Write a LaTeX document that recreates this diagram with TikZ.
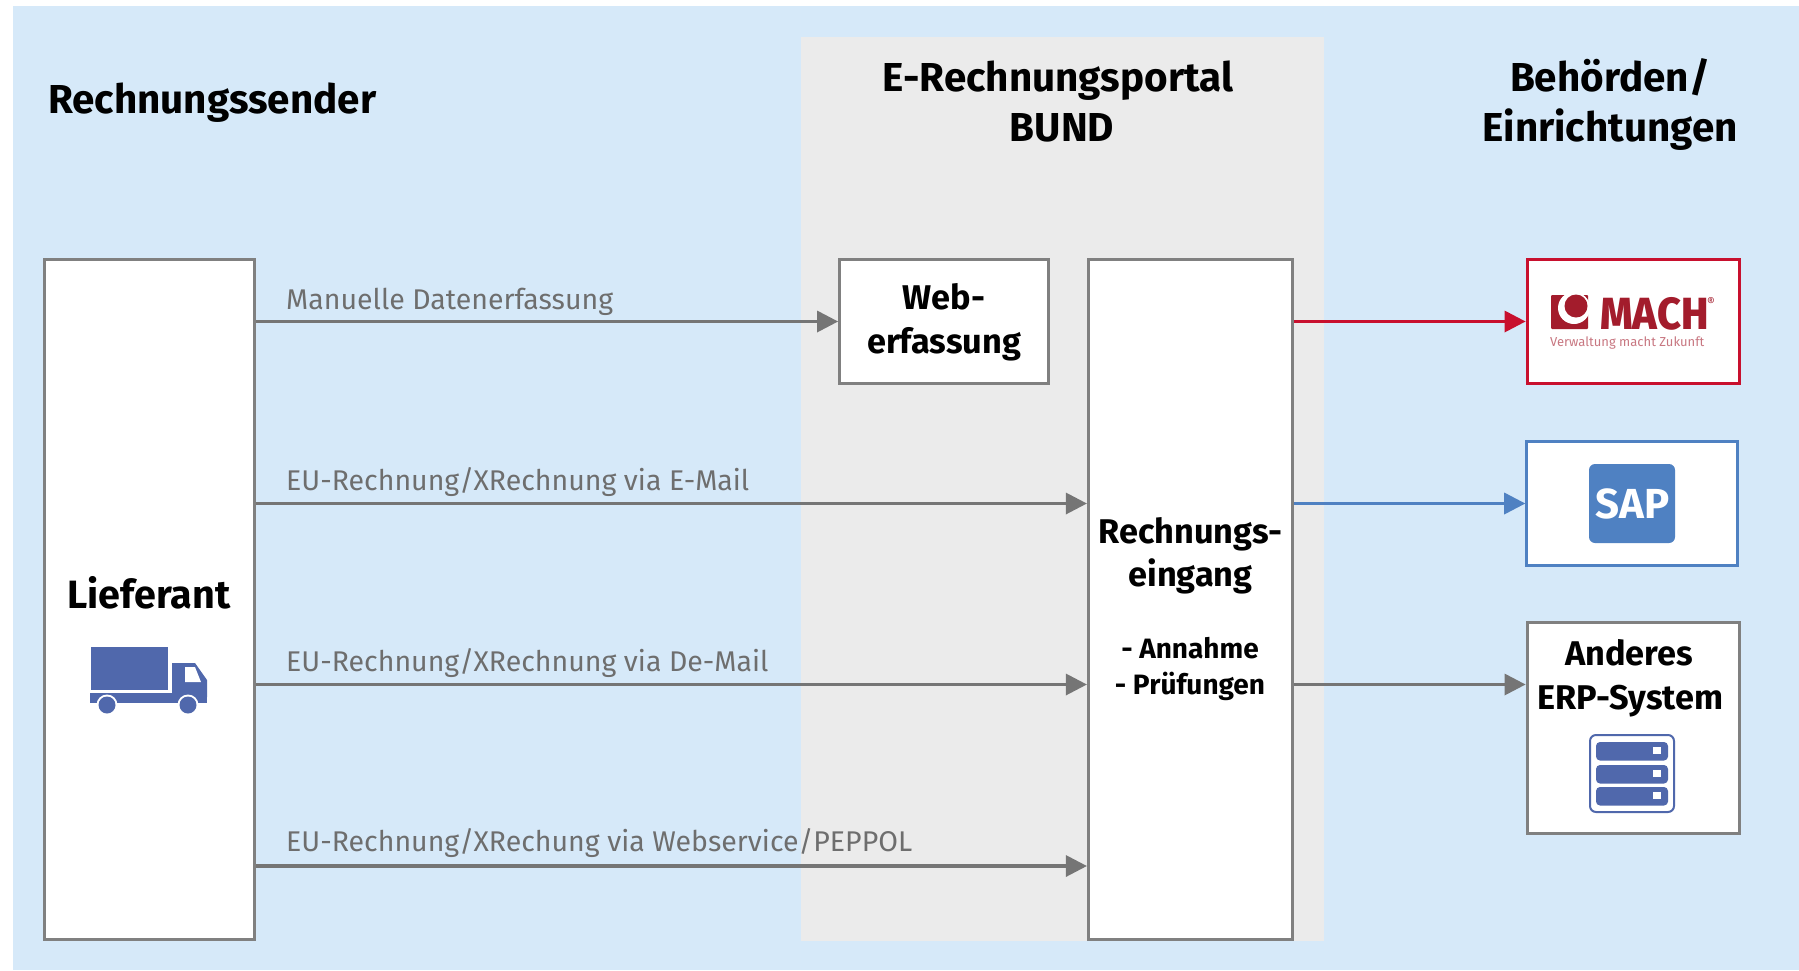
\documentclass[tikz,border=0pt]{standalone}
\usepackage{fontspec}
\usetikzlibrary{calc}
\setmainfont{Fira Sans}
\newfontfamily\heavyfont{Fira Sans ExtraBold}
\definecolor{bgblue}{HTML}{D6E9F9}
\definecolor{portal}{HTML}{EBEBEB}
\definecolor{edge}{HTML}{808080}
\definecolor{arrowgrey}{HTML}{757575}
\definecolor{lab}{HTML}{6E6E6E}
\definecolor{machred}{HTML}{C8102E}
\definecolor{machdark}{HTML}{A31C2C}
\definecolor{sapblue}{HTML}{4F81C2}
\definecolor{icon}{HTML}{5068AC}
\tikzset{
 box/.style={draw=edge,line width=3pt,fill=white,inner sep=0pt},
 ttl/.style={font=\fontsize{40.4}{50}\selectfont\bfseries,align=center,text=black},
 boxt/.style={font=\fontsize{34.3}{43.5}\selectfont\bfseries,align=center,text=black},
 sub/.style={font=\fontsize{28}{36}\selectfont\bfseries,align=center,text=black},
 lbl/.style={font=\fontsize{28.5}{34}\selectfont,text=lab,anchor=base west,inner sep=0pt},
 conn/.style={line width=3.2pt},
}
\newcommand{\arr}[3]{%
 \draw[conn,draw=#3] (#1) -- ($(#2)+(-20,0)$);
 \fill[#3] (#2) -- ($(#2)+(-21,-11)$) -- ($(#2)+(-21,11)$) -- cycle;}
\begin{document}
\begin{tikzpicture}[x=1pt,y=-1pt]
\useasboundingbox (0,0) rectangle (1799,970);
\fill[bgblue] (13,6) rectangle (1799,970);
\fill[portal] (801,37) rectangle (1324,941);
\node[ttl,anchor=base west,inner sep=0pt] (t1) at (48,113) {Rechnungssender};
\node[ttl] (t2) at (1058,102) {E-Rechnungsportal\\\hspace*{8pt}BUND};
\node[ttl] (t3) at (1610,104) {Behörden/\\Einrichtungen};
\node[box,minimum width=210pt,minimum height=680pt] (lief) at (149.5,599) {};
\node[box,minimum width=209pt,minimum height=124pt] (web) at (944,321.5) {};
\node[box,minimum width=204pt,minimum height=680pt] (re) at (1190.3,599) {};
\node[box,draw=machred,minimum width=212pt,minimum height=124.5pt] (mach) at (1633,321.5) {};
\node[box,draw=sapblue,line width=2.6pt,minimum width=211pt,minimum height=124pt] (sap) at (1632,503.5) {};
\node[box,minimum width=212pt,minimum height=211pt] (erp) at (1633,727.5) {};
\node[boxt,font=\fontsize{39.5}{44}\selectfont\bfseries] (lt) at (149,593) {Lieferant};
\node[boxt] (wt) at (944,322.5) {Web-\\erfassung};
\node[boxt] (rt) at (1190.5,556) {Rechnungs-\\eingang};
\node[sub] (rs) at (1190,669) {- Annahme\\- Prüfungen};
\node[boxt] (et) at (1629,678.5) {Anderes\\\hspace*{3pt}ERP-System};
% connectors
\coordinate (l1) at (lief.east|-web.west);
\coordinate (l2) at (lief.east|-sap.west);
\coordinate (y3) at (0,684.5);
\coordinate (y4) at (0,866);
\coordinate (l3) at (lief.east|-y3);
\coordinate (l4) at (lief.east|-y4);
\coordinate (r2) at (re.west|-l2);
\coordinate (r3) at (re.west|-l3);
\coordinate (r4) at (re.west|-l4);
\coordinate (o1) at (re.east|-l1);
\coordinate (o2) at (re.east|-l2);
\coordinate (o3) at (re.east|-l3);
\coordinate (e3) at (erp.west|-l3);
\arr{l1}{web.west}{arrowgrey}
\arr{l2}{r2}{arrowgrey}
\arr{l3}{r3}{arrowgrey}
\arr{l4}{r4}{arrowgrey}
\arr{o1}{mach.west}{machred}
\arr{o2}{sap.west}{sapblue}
\arr{o3}{e3}{arrowgrey}
\node[lbl] (a) at (286,309) {Manuelle Datenerfassung};
\node[lbl] (b) at (286,490) {EU-Rechnung/XRechnung via E-Mail};
\node[lbl] (c) at (286,671) {EU-Rechnung/XRechnung via De-Mail};
\node[lbl] (d) at (286,851) {EU-Rechnung/XRechung via Webservice/PEPPOL};
% truck
\begin{scope}[shift={(90,647)}]
\fill[icon] (0.7,0) rectangle (78,43);
\fill[icon] (0,46) rectangle (117,56);
\fill[icon] (82,16) -- (105,16) -- (117,33) -- (117,50) -- (82,50) -- cycle;
\fill[white] (95,20) -- (105,20) -- (111,35) -- (95,35) -- cycle;
\foreach \x in {17,98}{\fill[white] (\x,58) circle (10.5); \fill[icon] (\x,58) circle (8.5);}
\end{scope}
% SAP
\fill[sapblue,rounded corners=6pt] (1589,464) rectangle (1675,543);
\node[font=\fontsize{42}{42}\selectfont\bfseries,text=white] (saplogo) at (1632.5,504) {SAP};
% MACH
\fill[machdark,rounded corners=1pt] (1551,295) rectangle (1588,329);
\fill[white] (1574,308) circle (16);
\fill[machdark] (1576,306) circle (11.5);
\node[font=\fontsize{45}{45}\selectfont\heavyfont,text=machdark,anchor=base west,inner sep=0pt,xscale=.92,transform shape] (machlogo) at (1600,329) {MACH};
\node[font=\fontsize{12}{12}\selectfont,text=machdark,inner sep=0pt] (r) at (1711,301.5) {®};
\node[font=\fontsize{13}{13}\selectfont,text=machdark!60,anchor=base west,inner sep=0pt] (vm) at (1550,346) {Verwaltung macht Zukunft};
% server icon
\draw[icon,line width=2pt,fill=white,rounded corners=6pt] (1590,735) rectangle (1674,812);
\foreach \y in {742,765,787}{
 \fill[icon,rounded corners=4pt] (1596,\y) rectangle (1668,\y+18.5);
 \fill[white] (1653,\y+5) rectangle (1661,\y+12);
}
\end{tikzpicture}
\end{document}
